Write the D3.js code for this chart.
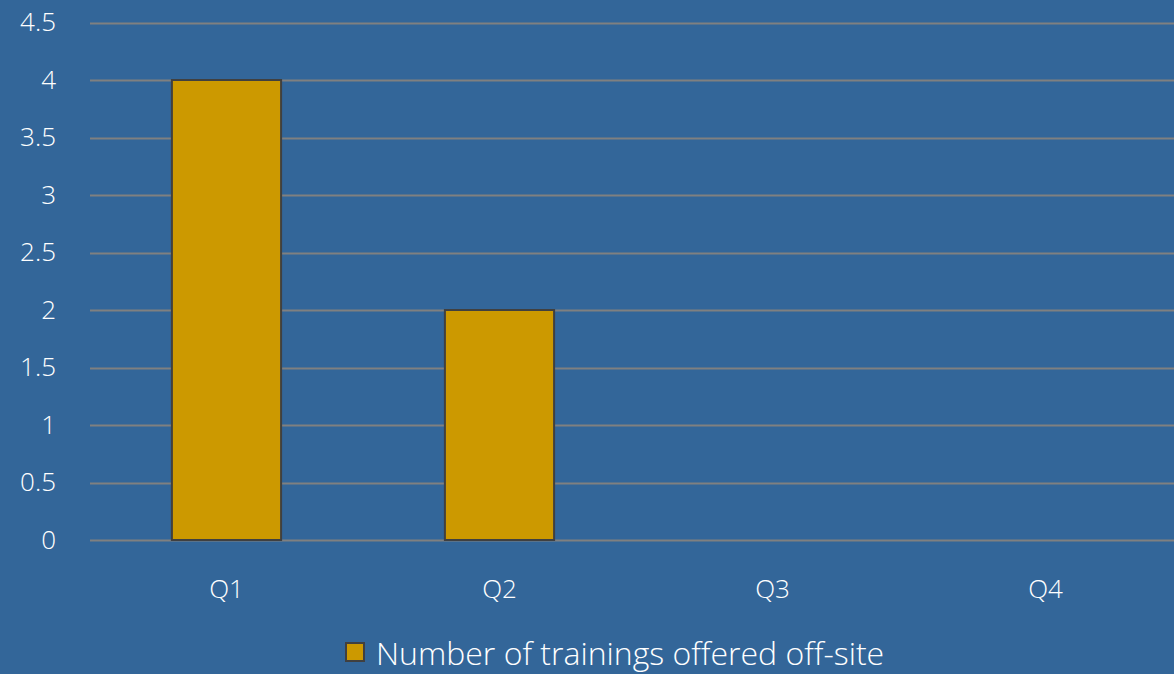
<!DOCTYPE html>
<html>
<head>
<meta charset="utf-8">
<script src="https://cdn.jsdelivr.net/npm/d3@7"></script>
<style>
  html, body { margin: 0; padding: 0; background: #336699; }
  svg { display: block; font-family: "Open Sans", "Noto Sans", sans-serif; font-weight: 300; }
</style>
</head>
<body>
<div id="chart"></div>
<script>
// DATA
const quarters = ["Q1", "Q2", "Q3", "Q4"];
const trainings = [4, 2, 0, 0];
const yTicks = [0, 0.5, 1, 1.5, 2, 2.5, 3, 3.5, 4, 4.5];
const seriesName = "Number of trainings offered off-site";

// SIZES
const width = 1174;
const height = 674;
const plotLeft = 90, plotRight = 1182, plotTop = 22.5, plotBottom = 540;

const svg = d3.select("#chart")
    .append("svg")
    .attr("width", width)
    .attr("height", height);

svg.append("rect")
    .attr("width", width)
    .attr("height", height)
    .attr("fill", "#336699");

// SCALES
const x = d3.scaleBand()
    .domain(quarters)
    .range([plotLeft, plotRight])
    .padding(0);

const y = d3.scaleLinear()
    .domain([0, 4.5])
    .range([plotBottom, plotTop]);

// GRIDLINES
svg.append("g")
    .selectAll("line")
    .data(yTicks)
    .enter().append("line")
    .attr("x1", plotLeft)
    .attr("x2", width)
    .attr("y1", d => Math.round(y(d)) + 0.5)
    .attr("y2", d => Math.round(y(d)) + 0.5)
    .attr("stroke", "#808080")
    .attr("stroke-width", 2);

// Y AXIS LABELS
const yAxis = d3.axisLeft(y)
    .tickValues(yTicks)
    .tickSize(0)
    .tickPadding(0)
    .tickFormat(d3.format("~g"));

const gy = svg.append("g")
    .attr("transform", "translate(56,0)")
    .call(yAxis)
    .attr("font-family", null)
    .attr("font-size", null);
gy.select(".domain").remove();
gy.selectAll("text")
    .attr("fill", "#ffffff")
    .style("font-size", "26px");

// X AXIS LABELS
const xAxis = d3.axisBottom(x)
    .tickSize(0)
    .tickPadding(0);

const gx = svg.append("g")
    .attr("transform", "translate(0,580)")
    .call(xAxis)
    .attr("font-family", null)
    .attr("font-size", null);
gx.select(".domain").remove();
gx.selectAll("text")
    .attr("fill", "#ffffff")
    .style("font-size", "26px");

// BARS
const barW = x.bandwidth() * 0.4;
svg.append("g")
    .selectAll("rect")
    .data(quarters.map((q, i) => ({ q: q, v: trainings[i] })).filter(d => d.v > 0))
    .enter().append("rect")
    .attr("x", d => x(d.q) + (x.bandwidth() - barW) / 2)
    .attr("y", d => y(d.v))
    .attr("width", barW)
    .attr("height", d => y(0) - y(d.v))
    .attr("fill", "#cc9900")
    .attr("stroke", "#404040")
    .attr("stroke-width", 2);

// LEGEND
const legend = svg.append("g");
legend.append("rect")
    .attr("x", 346)
    .attr("y", 643)
    .attr("width", 18)
    .attr("height", 18)
    .attr("fill", "#cc9900")
    .attr("stroke", "#404040")
    .attr("stroke-width", 2);
legend.append("text")
    .attr("x", 376)
    .attr("y", 665)
    .attr("fill", "#ffffff")
    .style("font-size", "32px")
    .text(seriesName);
</script>
</body>
</html>
